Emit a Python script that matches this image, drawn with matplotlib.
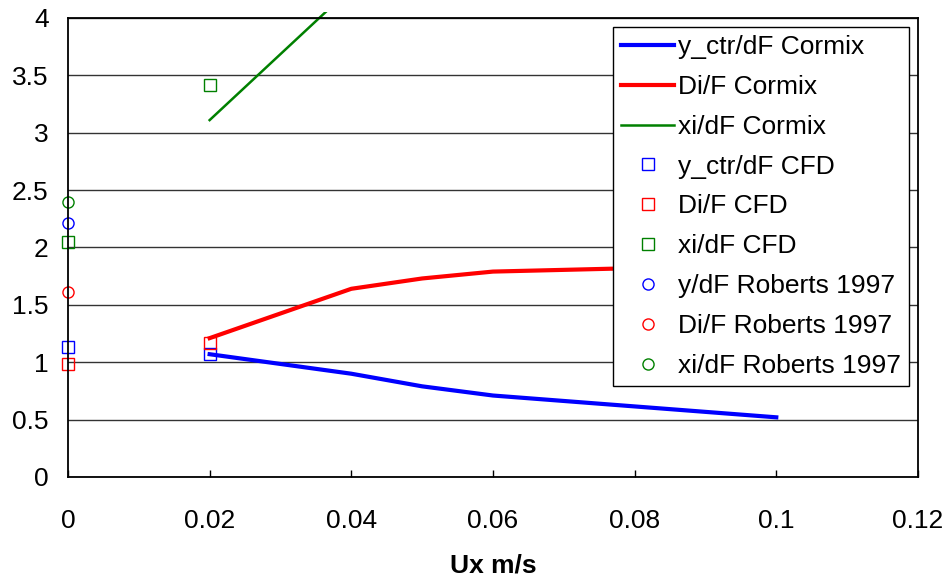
import matplotlib
matplotlib.use("Agg")
from matplotlib import pyplot as plt
from matplotlib.patches import Rectangle

plt.rcParams['font.family'] = ['Liberation Sans', 'DejaVu Sans']

# Cormix model curves
ux_cormix = [0.02, 0.04, 0.05, 0.06, 0.1]
yctr_cormix = [1.07, 0.90, 0.79, 0.71, 0.52]
di_cormix = [1.21, 1.64, 1.73, 1.79, 1.85]
ux_xi_cormix = [0.02, 0.04]
xi_cormix = [3.11, 4.26]

# CFD results
ux_cfd = [0.0, 0.02]
yctr_cfd = [1.135, 1.07]
di_cfd = [0.985, 1.17]
xi_cfd = [2.05, 3.42]

# Roberts 1997
ux_rob = [0.0]
y_rob = [2.21]
di_rob = [1.61]
xi_rob = [2.40]

x_ticks = [0, 0.02, 0.04, 0.06, 0.08, 0.1, 0.12]
x_labels = ['0', '0.02', '0.04', '0.06', '0.08', '0.1', '0.12']
y_ticks = [0, 0.5, 1, 1.5, 2, 2.5, 3, 3.5, 4]
y_labels = ['0', '0.5', '1', '1.5', '2', '2.5', '3', '3.5', '4']

blue, red, green = '#0000FF', '#FF0000', '#008000'
fs = 19

fig = plt.figure(figsize=(9.48, 5.8), dpi=100)
ax = fig.add_axes([0.0717, 0.1776, 0.8966, 0.7914])

ax.plot(ux_cormix, yctr_cormix, color=blue, lw=3, label='y_ctr/dF Cormix')
ax.plot(ux_cormix, di_cormix, color=red, lw=3, label='Di/F Cormix')
gl, = ax.plot(ux_xi_cormix, xi_cormix, color=green, lw=1.8, label='xi/dF Cormix')
# excel lets this one run a bit past the top of the plot area
gl.set_clip_path(Rectangle((0, 0), 1, 1.014, transform=ax.transAxes))

mk = dict(ls='none', markersize=8, markerfacecolor='none', markeredgewidth=1, clip_on=False)
ax.plot(ux_cfd, yctr_cfd, marker='s', markeredgecolor=blue, label='y_ctr/dF CFD', **mk)
ax.plot(ux_cfd, di_cfd, marker='s', markeredgecolor=red, label='Di/F CFD', **mk)
ax.plot(ux_cfd, xi_cfd, marker='s', markeredgecolor=green, label='xi/dF CFD', **mk)
ax.plot(ux_rob, y_rob, marker='o', markeredgecolor=blue, label='y/dF Roberts 1997', **mk)
ax.plot(ux_rob, di_rob, marker='o', markeredgecolor=red, label='Di/F Roberts 1997', **mk)
ax.plot(ux_rob, xi_rob, marker='o', markeredgecolor=green, label='xi/dF Roberts 1997', **mk)

ax.set_xlim(0, 0.12)
ax.set_ylim(0, 4)
ax.set_xticks(x_ticks)
ax.set_xticklabels(x_labels)
ax.set_yticks(y_ticks)
ax.set_yticklabels(y_labels)
ax.tick_params(axis='x', direction='in', length=5, width=1, pad=23, labelsize=fs)
ax.tick_params(axis='y', length=0, pad=14, labelsize=fs)
ax.yaxis.grid(True, color='#333333', lw=1)
ax.set_axisbelow(True)
for s in ax.spines.values():
    s.set_linewidth(1.3)
    s.set_color('black')

ax.set_xlabel('Ux m/s', fontsize=fs, fontweight='bold', labelpad=15)

leg = ax.legend(loc='upper right', bbox_to_anchor=(0.9894, 0.980), borderaxespad=0,
                fontsize=fs, frameon=True, fancybox=False, framealpha=1,
                edgecolor='black', labelspacing=0.60, handlelength=2.0,
                handletextpad=0.15, borderpad=0.3)
leg.get_frame().set_linewidth(1)

fig.savefig('out.png', dpi=100)
